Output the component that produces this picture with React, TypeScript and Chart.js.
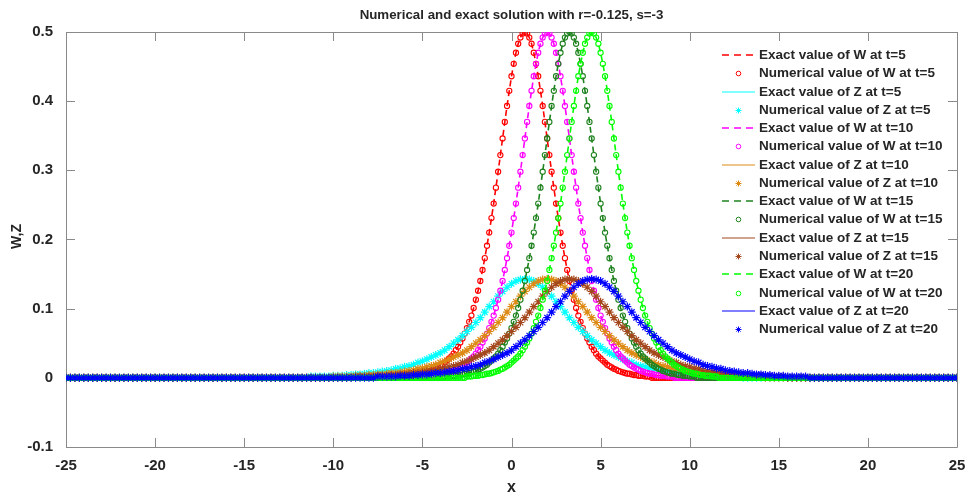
import React, { useEffect, useRef } from 'react';
import { Chart, registerables } from 'chart.js';

Chart.register(...registerables);

// ---------------- data ----------------
const X_MIN = -25;
const X_MAX = 25;
const Y_MIN = -0.1;
const Y_MAX = 0.5;
const X_TICKS = [-25, -20, -15, -10, -5, 0, 5, 10, 15, 20, 25];
const Y_TICKS = [-0.1, 0, 0.1, 0.2, 0.3, 0.4, 0.5];
const TIMES = [5, 10, 15, 20];

const TITLE = 'Numerical and exact solution with r=-0.125, s=-3';
const X_LABEL = 'x';
const Y_LABEL = 'W,Z';

// W profiles: sampled every 0.125 in x, starting at the given x; zero outside the window
const W_STEP = 0.125;
const W_T5_START = -6.25;
const W_T5 = [
  0.002, 0.002, 0.002, 0.003, 0.003, 0.003, 0.004, 0.004, 0.005, 0.006,
  0.006, 0.007, 0.008, 0.009, 0.010, 0.012, 0.013, 0.015, 0.017, 0.019,
  0.022, 0.025, 0.028, 0.031, 0.035, 0.040, 0.045, 0.051, 0.057, 0.064,
  0.072, 0.081, 0.090, 0.101, 0.113, 0.126, 0.140, 0.156, 0.173, 0.191,
  0.210, 0.231, 0.252, 0.275, 0.298, 0.322, 0.346, 0.370, 0.393, 0.415,
  0.436, 0.454, 0.470, 0.483, 0.492, 0.498, 0.500, 0.498, 0.492, 0.483,
  0.470, 0.454, 0.436, 0.415, 0.393, 0.370, 0.346, 0.322, 0.298, 0.275,
  0.252, 0.231, 0.210, 0.191, 0.173, 0.156, 0.140, 0.126, 0.113, 0.101,
  0.090, 0.081, 0.072, 0.064, 0.057, 0.051, 0.045, 0.040, 0.035, 0.031,
  0.028, 0.025, 0.022, 0.019, 0.017, 0.015, 0.013, 0.012, 0.010, 0.009,
  0.008, 0.007, 0.006, 0.006, 0.005, 0.004, 0.004, 0.003, 0.003, 0.003,
  0.002, 0.002, 0.002,
];
const W_T10_START = -5.0;
const W_T10 = [
  0.002, 0.002, 0.002, 0.003, 0.003, 0.003, 0.004, 0.004, 0.005, 0.006,
  0.006, 0.007, 0.008, 0.009, 0.010, 0.012, 0.013, 0.015, 0.017, 0.019,
  0.022, 0.025, 0.028, 0.031, 0.035, 0.040, 0.045, 0.051, 0.057, 0.064,
  0.072, 0.081, 0.090, 0.101, 0.113, 0.126, 0.140, 0.156, 0.173, 0.191,
  0.210, 0.231, 0.252, 0.275, 0.298, 0.322, 0.346, 0.370, 0.393, 0.415,
  0.436, 0.454, 0.470, 0.483, 0.492, 0.498, 0.500, 0.498, 0.492, 0.483,
  0.470, 0.454, 0.436, 0.415, 0.393, 0.370, 0.346, 0.322, 0.298, 0.275,
  0.252, 0.231, 0.210, 0.191, 0.173, 0.156, 0.140, 0.126, 0.113, 0.101,
  0.090, 0.081, 0.072, 0.064, 0.057, 0.051, 0.045, 0.040, 0.035, 0.031,
  0.028, 0.025, 0.022, 0.019, 0.017, 0.015, 0.013, 0.012, 0.010, 0.009,
  0.008, 0.007, 0.006, 0.006, 0.005, 0.004, 0.004, 0.003, 0.003, 0.003,
  0.002, 0.002, 0.002,
];
const W_T15_START = -3.75;
const W_T15 = [
  0.002, 0.002, 0.002, 0.003, 0.003, 0.003, 0.004, 0.004, 0.005, 0.006,
  0.006, 0.007, 0.008, 0.009, 0.010, 0.012, 0.013, 0.015, 0.017, 0.019,
  0.022, 0.025, 0.028, 0.031, 0.035, 0.040, 0.045, 0.051, 0.057, 0.064,
  0.072, 0.081, 0.090, 0.101, 0.113, 0.126, 0.140, 0.156, 0.173, 0.191,
  0.210, 0.231, 0.252, 0.275, 0.298, 0.322, 0.346, 0.370, 0.393, 0.415,
  0.436, 0.454, 0.470, 0.483, 0.492, 0.498, 0.500, 0.498, 0.492, 0.483,
  0.470, 0.454, 0.436, 0.415, 0.393, 0.370, 0.346, 0.322, 0.298, 0.275,
  0.252, 0.231, 0.210, 0.191, 0.173, 0.156, 0.140, 0.126, 0.113, 0.101,
  0.090, 0.081, 0.072, 0.064, 0.057, 0.051, 0.045, 0.040, 0.035, 0.031,
  0.028, 0.025, 0.022, 0.019, 0.017, 0.015, 0.013, 0.012, 0.010, 0.009,
  0.008, 0.007, 0.006, 0.006, 0.005, 0.004, 0.004, 0.003, 0.003, 0.003,
  0.002, 0.002, 0.002,
];
const W_T20_START = -2.5;
const W_T20 = [
  0.002, 0.002, 0.002, 0.003, 0.003, 0.003, 0.004, 0.004, 0.005, 0.006,
  0.006, 0.007, 0.008, 0.009, 0.010, 0.012, 0.013, 0.015, 0.017, 0.019,
  0.022, 0.025, 0.028, 0.031, 0.035, 0.040, 0.045, 0.051, 0.057, 0.064,
  0.072, 0.081, 0.090, 0.101, 0.113, 0.126, 0.140, 0.156, 0.173, 0.191,
  0.210, 0.231, 0.252, 0.275, 0.298, 0.322, 0.346, 0.370, 0.393, 0.415,
  0.436, 0.454, 0.470, 0.483, 0.492, 0.498, 0.500, 0.498, 0.492, 0.483,
  0.470, 0.454, 0.436, 0.415, 0.393, 0.370, 0.346, 0.322, 0.298, 0.275,
  0.252, 0.231, 0.210, 0.191, 0.173, 0.156, 0.140, 0.126, 0.113, 0.101,
  0.090, 0.081, 0.072, 0.064, 0.057, 0.051, 0.045, 0.040, 0.035, 0.031,
  0.028, 0.025, 0.022, 0.019, 0.017, 0.015, 0.013, 0.012, 0.010, 0.009,
  0.008, 0.007, 0.006, 0.006, 0.005, 0.004, 0.004, 0.003, 0.003, 0.003,
  0.002, 0.002, 0.002,
];

// Z profiles: sampled every 0.25 in x, starting at the given x; zero outside the window
const Z_STEP = 0.25;
const Z_T5_START = -11.25;
const Z_T5 = [
  0.002, 0.002, 0.002, 0.002, 0.002, 0.003, 0.003, 0.003, 0.004, 0.004,
  0.005, 0.005, 0.006, 0.007, 0.007, 0.008, 0.009, 0.010, 0.011, 0.013,
  0.014, 0.016, 0.017, 0.019, 0.022, 0.024, 0.027, 0.030, 0.033, 0.036,
  0.040, 0.045, 0.050, 0.055, 0.061, 0.067, 0.073, 0.080, 0.087, 0.095,
  0.103, 0.110, 0.118, 0.125, 0.131, 0.136, 0.140, 0.142, 0.143, 0.142,
  0.140, 0.136, 0.131, 0.125, 0.118, 0.110, 0.103, 0.095, 0.087, 0.080,
  0.073, 0.067, 0.061, 0.055, 0.050, 0.045, 0.040, 0.036, 0.033, 0.030,
  0.027, 0.024, 0.022, 0.019, 0.017, 0.016, 0.014, 0.013, 0.011, 0.010,
  0.009, 0.008, 0.007, 0.007, 0.006, 0.005, 0.005, 0.004, 0.004, 0.003,
  0.003, 0.003, 0.002, 0.002, 0.002, 0.002, 0.002,
];
const Z_T10_START = -10.0;
const Z_T10 = [
  0.002, 0.002, 0.002, 0.002, 0.002, 0.003, 0.003, 0.003, 0.004, 0.004,
  0.005, 0.005, 0.006, 0.007, 0.007, 0.008, 0.009, 0.010, 0.011, 0.013,
  0.014, 0.016, 0.017, 0.019, 0.022, 0.024, 0.027, 0.030, 0.033, 0.036,
  0.040, 0.045, 0.050, 0.055, 0.061, 0.067, 0.073, 0.080, 0.087, 0.095,
  0.103, 0.110, 0.118, 0.125, 0.131, 0.136, 0.140, 0.142, 0.143, 0.142,
  0.140, 0.136, 0.131, 0.125, 0.118, 0.110, 0.103, 0.095, 0.087, 0.080,
  0.073, 0.067, 0.061, 0.055, 0.050, 0.045, 0.040, 0.036, 0.033, 0.030,
  0.027, 0.024, 0.022, 0.019, 0.017, 0.016, 0.014, 0.013, 0.011, 0.010,
  0.009, 0.008, 0.007, 0.007, 0.006, 0.005, 0.005, 0.004, 0.004, 0.003,
  0.003, 0.003, 0.002, 0.002, 0.002, 0.002, 0.002,
];
const Z_T15_START = -8.75;
const Z_T15 = [
  0.002, 0.002, 0.002, 0.002, 0.002, 0.003, 0.003, 0.003, 0.004, 0.004,
  0.005, 0.005, 0.006, 0.007, 0.007, 0.008, 0.009, 0.010, 0.011, 0.013,
  0.014, 0.016, 0.017, 0.019, 0.022, 0.024, 0.027, 0.030, 0.033, 0.036,
  0.040, 0.045, 0.050, 0.055, 0.061, 0.067, 0.073, 0.080, 0.087, 0.095,
  0.103, 0.110, 0.118, 0.125, 0.131, 0.136, 0.140, 0.142, 0.143, 0.142,
  0.140, 0.136, 0.131, 0.125, 0.118, 0.110, 0.103, 0.095, 0.087, 0.080,
  0.073, 0.067, 0.061, 0.055, 0.050, 0.045, 0.040, 0.036, 0.033, 0.030,
  0.027, 0.024, 0.022, 0.019, 0.017, 0.016, 0.014, 0.013, 0.011, 0.010,
  0.009, 0.008, 0.007, 0.007, 0.006, 0.005, 0.005, 0.004, 0.004, 0.003,
  0.003, 0.003, 0.002, 0.002, 0.002, 0.002, 0.002,
];
const Z_T20_START = -7.5;
const Z_T20 = [
  0.002, 0.002, 0.002, 0.002, 0.002, 0.003, 0.003, 0.003, 0.004, 0.004,
  0.005, 0.005, 0.006, 0.007, 0.007, 0.008, 0.009, 0.010, 0.011, 0.013,
  0.014, 0.016, 0.017, 0.019, 0.022, 0.024, 0.027, 0.030, 0.033, 0.036,
  0.040, 0.045, 0.050, 0.055, 0.061, 0.067, 0.073, 0.080, 0.087, 0.095,
  0.103, 0.110, 0.118, 0.125, 0.131, 0.136, 0.140, 0.142, 0.143, 0.142,
  0.140, 0.136, 0.131, 0.125, 0.118, 0.110, 0.103, 0.095, 0.087, 0.080,
  0.073, 0.067, 0.061, 0.055, 0.050, 0.045, 0.040, 0.036, 0.033, 0.030,
  0.027, 0.024, 0.022, 0.019, 0.017, 0.016, 0.014, 0.013, 0.011, 0.010,
  0.009, 0.008, 0.007, 0.007, 0.006, 0.005, 0.005, 0.004, 0.004, 0.003,
  0.003, 0.003, 0.002, 0.002, 0.002, 0.002, 0.002,
];

const W_SERIES = [
  { start: W_T5_START, values: W_T5 },
  { start: W_T10_START, values: W_T10 },
  { start: W_T15_START, values: W_T15 },
  { start: W_T20_START, values: W_T20 },
];
const Z_SERIES = [
  { start: Z_T5_START, values: Z_T5 },
  { start: Z_T10_START, values: Z_T10 },
  { start: Z_T15_START, values: Z_T15 },
  { start: Z_T20_START, values: Z_T20 },
];

// ---------------- styles ----------------
const W_COLORS = ['#FF0000', '#FF00FF', '#1E821E', '#00FF00'];
const Z_COLORS = ['#00FFFF', '#DC8A14', '#A4471C', '#0000FF'];
const FONT = "'Liberation Sans', Arial, Helvetica, sans-serif";
const TEXT_COLOR = '#262626';
const AXIS_COLOR = '#8a8a8a';

// build points over the whole x range: profile inside its window, on zero elsewhere
function toPoints(start: number, step: number, values: number[]) {
  const n = Math.round((X_MAX - X_MIN) / step);
  const offset = Math.round((start - X_MIN) / step);
  const pts: { x: number; y: number }[] = [];
  for (let k = 0; k <= n; k++) {
    const j = k - offset;
    pts.push({ x: X_MIN + k * step, y: j >= 0 && j < values.length ? values[j] : 0 });
  }
  return pts;
}

function buildDatasets() {
  const ds: any[] = [];
  TIMES.forEach((t, i) => {
    const wPts = toPoints(W_SERIES[i].start, W_STEP, W_SERIES[i].values);
    const zPts = toPoints(Z_SERIES[i].start, Z_STEP, Z_SERIES[i].values);
    ds.push({
      label: `Exact value of W at t=${t}`,
      data: wPts,
      borderColor: W_COLORS[i],
      backgroundColor: W_COLORS[i],
      borderWidth: 1.6,
      borderDash: [6, 4],
      pointRadius: 0,
      fill: false,
      _kind: 'dash',
      _color: W_COLORS[i],
    });
    ds.push({
      label: `Numerical value of W at t=${t}`,
      data: wPts,
      showLine: false,
      borderColor: W_COLORS[i],
      backgroundColor: 'rgba(0,0,0,0)',
      pointStyle: 'circle',
      pointRadius: 2.6,
      pointBorderWidth: 1.1,
      pointBorderColor: W_COLORS[i],
      pointBackgroundColor: 'rgba(0,0,0,0)',
      _kind: 'circle',
      _color: W_COLORS[i],
    });
    ds.push({
      label: `Exact value of Z at t=${t}`,
      data: zPts,
      borderColor: Z_COLORS[i],
      backgroundColor: Z_COLORS[i],
      borderWidth: 1,
      pointRadius: 0,
      fill: false,
      _kind: 'solid',
      _color: Z_COLORS[i],
    });
    ds.push({
      label: `Numerical value of Z at t=${t}`,
      data: zPts,
      showLine: false,
      borderColor: Z_COLORS[i],
      backgroundColor: Z_COLORS[i],
      pointStyle: 'star',
      pointRadius: 4,
      pointBorderWidth: 1.2,
      pointBorderColor: Z_COLORS[i],
      pointBackgroundColor: Z_COLORS[i],
      _kind: 'star',
      _color: Z_COLORS[i],
    });
  });
  // later series drawn on top (as in the original)
  ds.forEach((d, i) => (d.order = ds.length - i));
  return ds;
}

const decorPlugin = {
  id: 'matlabDecor',
  beforeDatasetsDraw(chart: any) {
    const { ctx, chartArea } = chart;
    const { left, right, top, bottom } = chartArea;
    const xs = chart.scales.x;
    const ys = chart.scales.y;
    const TL = 9;
    ctx.save();
    ctx.strokeStyle = AXIS_COLOR;
    ctx.lineWidth = 1;
    ctx.beginPath();
    ctx.rect(Math.round(left) + 0.5, Math.round(top) + 0.5, Math.round(right - left), Math.round(bottom - top));
    X_TICKS.forEach((v) => {
      const px = Math.round(xs.getPixelForValue(v)) + 0.5;
      ctx.moveTo(px, bottom);
      ctx.lineTo(px, bottom - TL);
      ctx.moveTo(px, top);
      ctx.lineTo(px, top + TL);
    });
    Y_TICKS.forEach((v) => {
      const py = Math.round(ys.getPixelForValue(v)) + 0.5;
      ctx.moveTo(left, py);
      ctx.lineTo(left + TL, py);
      ctx.moveTo(right, py);
      ctx.lineTo(right - TL, py);
    });
    ctx.stroke();
    ctx.restore();
  },
  afterDraw(chart: any) {
    const { ctx, chartArea } = chart;
    const { left, right, top, bottom } = chartArea;
    ctx.save();
    ctx.fillStyle = TEXT_COLOR;
    // title
    ctx.font = `bold 13.3px ${FONT}`;
    ctx.textAlign = 'center';
    ctx.textBaseline = 'alphabetic';
    ctx.fillText(TITLE, (left + right) / 2, 19);
    // x label
    ctx.font = `bold 16px ${FONT}`;
    ctx.textBaseline = 'middle';
    ctx.fillText(X_LABEL, (left + right) / 2, 488);
    // y label
    ctx.save();
    ctx.translate(17, (top + bottom) / 2 - 3);
    ctx.rotate(-Math.PI / 2);
    ctx.font = `bold 14px ${FONT}`;
    ctx.textAlign = 'center';
    ctx.textBaseline = 'middle';
    ctx.fillText(Y_LABEL, 0, 0);
    ctx.restore();

    // legend
    const x0 = 722;
    const x1 = 755;
    const xm = (x0 + x1) / 2;
    const tx = 759;
    const y0 = 55;
    const dy = 18.27;
    chart.data.datasets.forEach((d: any, i: number) => {
      const yc = Math.round(y0 + i * dy);
      ctx.save();
      if (d._kind === 'dash') {
        ctx.strokeStyle = d._color;
        ctx.lineWidth = 1.6;
        ctx.setLineDash([7, 5]);
        ctx.beginPath();
        ctx.moveTo(x0, yc);
        ctx.lineTo(x1, yc);
        ctx.stroke();
      } else if (d._kind === 'solid') {
        ctx.strokeStyle = d._color;
        ctx.lineWidth = 1.2;
        ctx.setLineDash([]);
        ctx.beginPath();
        ctx.moveTo(x0, yc);
        ctx.lineTo(x1, yc);
        ctx.stroke();
      } else if (d._kind === 'circle') {
        ctx.strokeStyle = d._color;
        ctx.lineWidth = 1;
        ctx.beginPath();
        ctx.arc(xm, yc + 0.5, 2.3, 0, Math.PI * 2);
        ctx.stroke();
      } else {
        ctx.strokeStyle = d._color;
        ctx.lineWidth = 1;
        const r = 3;
        const q = r * Math.SQRT1_2;
        const y = yc + 0.5;
        ctx.beginPath();
        ctx.moveTo(xm - r, y);
        ctx.lineTo(xm + r, y);
        ctx.moveTo(xm, y - r);
        ctx.lineTo(xm, y + r);
        ctx.moveTo(xm - q, y - q);
        ctx.lineTo(xm + q, y + q);
        ctx.moveTo(xm - q, y + q);
        ctx.lineTo(xm + q, y - q);
        ctx.stroke();
      }
      ctx.restore();
      ctx.font = `bold 13.5px ${FONT}`;
      ctx.textAlign = 'left';
      ctx.textBaseline = 'middle';
      ctx.fillStyle = TEXT_COLOR;
      ctx.fillText(d.label, tx, yc + 0.5);
    });
    ctx.restore();
  },
};

export default function App() {
  const ref = useRef<HTMLCanvasElement | null>(null);
  useEffect(() => {
    if (!ref.current) return;
    const tickFont = { family: FONT, size: 15, weight: 'bold' as const };
    const chart = new Chart(ref.current, {
      type: 'line',
      data: { datasets: buildDatasets() },
      options: {
        responsive: false,
        animation: false,
        events: [],
        layout: { padding: { left: 0, right: 12, top: 32, bottom: 0 } },
        plugins: {
          legend: { display: false },
          tooltip: { enabled: false },
          title: { display: false },
          colors: { enabled: false },
        },
        scales: {
          x: {
            type: 'linear',
            min: X_MIN,
            max: X_MAX,
            grid: { display: false },
            border: { display: false },
            afterBuildTicks: (scale: any) => {
              scale.ticks = X_TICKS.map((v) => ({ value: v }));
            },
            afterFit: (scale: any) => {
              scale.height = 51;
            },
            ticks: {
              font: tickFont,
              color: TEXT_COLOR,
              padding: 2,
              maxRotation: 0,
              autoSkip: false,
            },
          },
          y: {
            type: 'linear',
            min: Y_MIN,
            max: Y_MAX,
            grid: { display: false },
            border: { display: false },
            afterBuildTicks: (scale: any) => {
              scale.ticks = Y_TICKS.map((v) => ({ value: v }));
            },
            afterFit: (scale: any) => {
              scale.width = 66;
            },
            ticks: {
              font: tickFont,
              color: TEXT_COLOR,
              padding: 5,
              callback: (v: any) => String(Math.round(Number(v) * 10) / 10),
            },
          },
        },
      },
      plugins: [decorPlugin],
    } as any);
    return () => chart.destroy();
  }, []);

  return (
    <div style={{ position: 'absolute', left: 0, top: 0, width: 969, height: 498, background: '#ffffff' }}>
      <canvas ref={ref} width={969} height={498} style={{ width: 969, height: 498, display: 'block' }} />
    </div>
  );
}
